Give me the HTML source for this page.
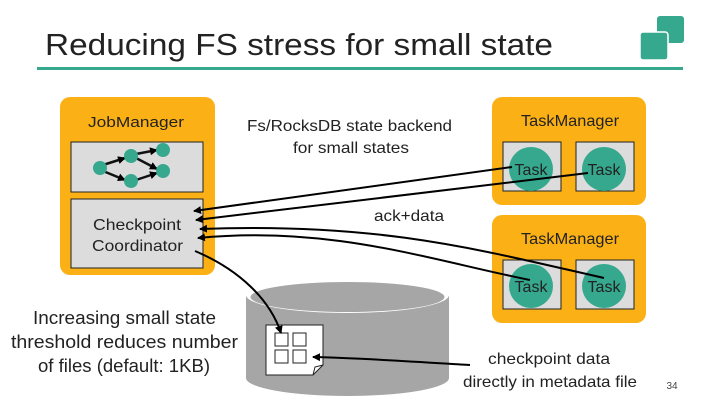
<!DOCTYPE html>
<html><head><style>
body{margin:0;width:720px;height:405px;background:#fff;overflow:hidden;font-family:"Liberation Sans",sans-serif;}
</style></head><body>
<svg width="720" height="405" viewBox="0 0 720 405" xmlns="http://www.w3.org/2000/svg" font-family="Liberation Sans, sans-serif">
<defs><marker id="a" markerWidth="8" markerHeight="8" refX="7" refY="4" orient="auto" markerUnits="userSpaceOnUse"><path d="M0,0 L8,4 L0,8 z" fill="#000"/></marker></defs>
<text x="45" y="55" font-size="31" fill="#222" textLength="508" lengthAdjust="spacingAndGlyphs">Reducing FS stress for small state</text>
<rect x="37" y="67" width="646" height="3" fill="#35a88e"/>
<rect x="657" y="16" width="27" height="27" rx="3" fill="#35a88e"/>
<rect x="640" y="32" width="28" height="28" rx="3" fill="#35a88e" stroke="#fff" stroke-width="1.5"/>
<!-- JobManager -->
<rect x="60" y="97" width="155" height="178" rx="10" fill="#fbb116"/>
<text x="88" y="127" font-size="15" fill="#222" textLength="96" lengthAdjust="spacingAndGlyphs">JobManager</text>
<rect x="71" y="142" width="132" height="50" fill="#dcdcdc" stroke="#222"/>
<rect x="71" y="199" width="132" height="69" fill="#dcdcdc" stroke="#222"/>
<text x="93" y="230" font-size="16" fill="#222" textLength="88" lengthAdjust="spacingAndGlyphs">Checkpoint</text>
<text x="92" y="251" font-size="16" fill="#222" textLength="91" lengthAdjust="spacingAndGlyphs">Coordinator</text>
<g stroke="#111" stroke-width="2.5" marker-end="url(#a)">
<line x1="103" y1="165" x2="125" y2="158"/><line x1="103" y1="171" x2="125" y2="180"/>
<line x1="136" y1="154" x2="157" y2="150"/><line x1="136" y1="158" x2="157" y2="169"/><line x1="136" y1="180" x2="157" y2="173"/>
</g>
<g fill="#35a88e"><circle cx="100" cy="168" r="7"/><circle cx="131" cy="156" r="7"/><circle cx="131" cy="181" r="7"/><circle cx="163" cy="150" r="7"/><circle cx="163" cy="171" r="7"/></g>
<text x="247" y="131" font-size="16" fill="#222" textLength="205" lengthAdjust="spacingAndGlyphs">Fs/RocksDB state backend</text>
<text x="293" y="153" font-size="16" fill="#222" textLength="116" lengthAdjust="spacingAndGlyphs">for small states</text>
<!-- TaskManagers -->
<rect x="492" y="97" width="154" height="108" rx="10" fill="#fbb116"/>
<text x="521" y="126" font-size="16" fill="#222" textLength="98" lengthAdjust="spacingAndGlyphs">TaskManager</text>
<rect x="503" y="142" width="58" height="49" fill="#dcdcdc" stroke="#222"/>
<rect x="576" y="142" width="58" height="49" fill="#dcdcdc" stroke="#222"/>
<circle cx="531" cy="169" r="22" fill="#35a88e"/><circle cx="604" cy="169" r="22" fill="#35a88e"/>
<text x="531" y="175" font-size="16" text-anchor="middle" fill="#222">Task</text>
<text x="604" y="175" font-size="16" text-anchor="middle" fill="#222">Task</text>
<rect x="492" y="215" width="154" height="108" rx="10" fill="#fbb116"/>
<text x="521" y="244" font-size="16" fill="#222" textLength="98" lengthAdjust="spacingAndGlyphs">TaskManager</text>
<rect x="503" y="260" width="58" height="49" fill="#dcdcdc" stroke="#222"/>
<rect x="576" y="260" width="58" height="49" fill="#dcdcdc" stroke="#222"/>
<circle cx="531" cy="286" r="22" fill="#35a88e"/><circle cx="604" cy="286" r="22" fill="#35a88e"/>
<text x="531" y="292" font-size="16" text-anchor="middle" fill="#222">Task</text>
<text x="604" y="292" font-size="16" text-anchor="middle" fill="#222">Task</text>
<!-- cylinder -->
<path d="M246,295 L246,378 A101.5,18 0 0 0 449,378 L449,295 Z" fill="#a6a6a6"/>
<ellipse cx="347.5" cy="295" rx="101.5" ry="18" fill="#fff"/>
<ellipse cx="347.5" cy="297" rx="97" ry="15" fill="#a6a6a6"/>
<path d="M266,325 L323,325 L323,365 L313,375 L266,375 Z" fill="#fff" stroke="#222"/>
<path d="M313,375 L315,367 L323,365" fill="none" stroke="#222"/>
<g fill="#fff" stroke="#222"><rect x="275" y="333" width="13" height="13"/><rect x="293" y="333" width="13" height="13"/><rect x="275" y="350" width="13" height="13"/><rect x="293" y="350" width="13" height="13"/></g>
<!-- connectors -->
<g stroke="#000" stroke-width="2" fill="none" marker-end="url(#a)">
<line x1="512" y1="167" x2="194" y2="211"/>
<line x1="588" y1="173" x2="196" y2="220"/>
<path d="M604,278 C480,250 380,222 200,229"/>
<path d="M530,280 C430,260 330,225 198,238"/>
<path d="M195,251 C240,270 270,300 281,333"/>
<path d="M470,365 C420,362 360,358 313,357"/>
</g>
<text x="374" y="221" font-size="16" fill="#222" textLength="70" lengthAdjust="spacingAndGlyphs">ack+data</text>
<text x="33" y="324" font-size="18" fill="#222" textLength="183" lengthAdjust="spacingAndGlyphs">Increasing small state</text>
<text x="11" y="348" font-size="18" fill="#222" textLength="227" lengthAdjust="spacingAndGlyphs">threshold reduces number</text>
<text x="38" y="372" font-size="18" fill="#222" textLength="172" lengthAdjust="spacingAndGlyphs">of files (default: 1KB)</text>
<text x="488" y="364" font-size="16" fill="#222" textLength="122" lengthAdjust="spacingAndGlyphs">checkpoint data</text>
<text x="463" y="387" font-size="16" fill="#222" textLength="174" lengthAdjust="spacingAndGlyphs">directly in metadata file</text>
<text x="672" y="389" font-size="10" text-anchor="middle" fill="#444">34</text>
</svg>
</body></html>
